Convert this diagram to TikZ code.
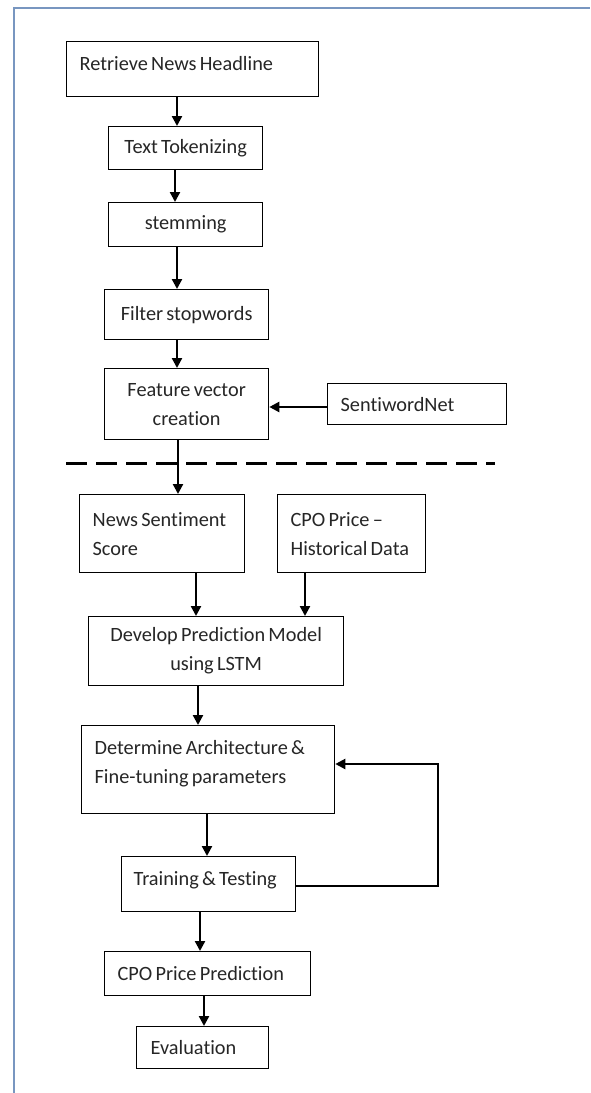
\documentclass[tikz,border=0pt]{standalone}
\usepackage{fontspec}
\setmainfont[Ligatures=NoCommon]{Carlito}
\usetikzlibrary{arrows.meta}
\definecolor{framecol}{RGB}{120,150,192}
\begin{document}
\begin{tikzpicture}[x=1pt,y=-1pt,
  box/.style={draw=black, line width=1.3pt, inner ysep=0pt, anchor=north west,
    font={\fontsize{20.3}{29}\selectfont}, text=black!85,
    execute at begin node={\spaceskip=0.16em\relax\xspaceskip=0.16em\relax\hyphenpenalty=10000\relax}},
  cbox/.style={box, inner xsep=0pt, align=center},
  lbox/.style={box, align=left},
  arr/.style={line width=2.3pt, -{Triangle[length=10pt,width=10pt]}},
  sep/.style={line width=3pt, dash pattern=on 21pt off 9pt},
  frame/.style={draw=framecol, line width=2pt}]
\useasboundingbox (0,0) rectangle (590,1093);
% frame
\draw[frame] (14,1093) -- (14,7.5) -- (590,7.5);
% nodes
\node[lbox, text width=226pt, inner xsep=13pt, text height=28.5pt, text depth=26.5pt] (retrieve) at (66,41) {Retrieve News Headline};
\node[cbox, minimum width=154pt, minimum height=43pt] (token) at (108,126) {Text Tokenizing};
\node[cbox, minimum width=154pt, minimum height=44pt] (stem) at (108,202) {stemming};
\node[cbox, minimum width=164pt, minimum height=50pt] (filter) at (104,289) {Filter stopwords};
\node[cbox, minimum width=164pt, minimum height=71pt] (feature) at (104,368) {Feature vector\\creation};
\node[lbox, text width=153pt, inner xsep=13pt, minimum height=41pt] (senti) at (327,383) {SentiwordNet};
\node[lbox, text width=139pt, inner xsep=13pt, minimum height=78pt] (news) at (79,494) {News Sentiment\\Score};
\node[lbox, text width=122pt, inner xsep=13pt, minimum height=78pt] (cpo) at (277,494) {CPO Price –\\Historical Data};
\node[cbox, minimum width=255pt, minimum height=69pt] (develop) at (88,616) {Develop Prediction Model\\using LSTM};
\node[lbox, text width=227pt, inner xsep=13pt, text height=28.5pt, text depth=59.5pt] (determine) at (81,725) {Determine Architecture \&\\Fine-tuning parameters};
\node[lbox, text width=150pt, inner xsep=12pt, text height=28.5pt, text depth=26.5pt] (train) at (121,856) {Training \& Testing};
\node[lbox, text width=180pt, inner xsep=13pt, minimum height=44pt] (pred) at (104,951) {CPO Price Prediction};
\node[lbox, text width=104pt, inner xsep=14pt, minimum height=42pt] (eval) at (136,1026) {Evaluation};
% arrow positions
\coordinate (a1) at (177,0);
\coordinate (a2) at (175,0);
\coordinate (a6) at (178,0);
\coordinate (a7) at (196,0);
\coordinate (a8) at (305,0);
\coordinate (a9) at (198,0);
\coordinate (a10) at (207,0);
\coordinate (a12) at (200,0);
\coordinate (a13) at (204,0);
\coordinate (sy) at (0,407);
\coordinate (fb) at (438,886);
\coordinate (fbt) at (438,764);
\coordinate (dl) at (66,463);
\coordinate (dr) at (495,463);
% connectors
\draw[arr] (retrieve.south -| a1) -- (token.north -| a1);
\draw[arr] (token.south -| a2) -- (stem.north -| a2);
\draw[arr] (stem.south -| a1) -- (filter.north -| a1);
\draw[arr] (filter.south -| a1) -- (feature.north -| a1);
\draw[arr] (senti.west |- sy) -- (feature.east |- sy);
\draw[sep] (dl) -- (dr);
\draw[arr] (feature.south -| a6) -- (news.north -| a6);
\draw[arr] (news.south -| a7) -- (develop.north -| a7);
\draw[arr] (cpo.south -| a8) -- (develop.north -| a8);
\draw[arr] (develop.south -| a9) -- (determine.north -| a9);
\draw[arr] (determine.south -| a10) -- (train.north -| a10);
\draw[arr] (train.east |- fb) -- (fb) -- (fbt) -- (determine.east |- fbt);
\draw[arr] (train.south -| a12) -- (pred.north -| a12);
\draw[arr] (pred.south -| a13) -- (eval.north -| a13);
\end{tikzpicture}
\end{document}
